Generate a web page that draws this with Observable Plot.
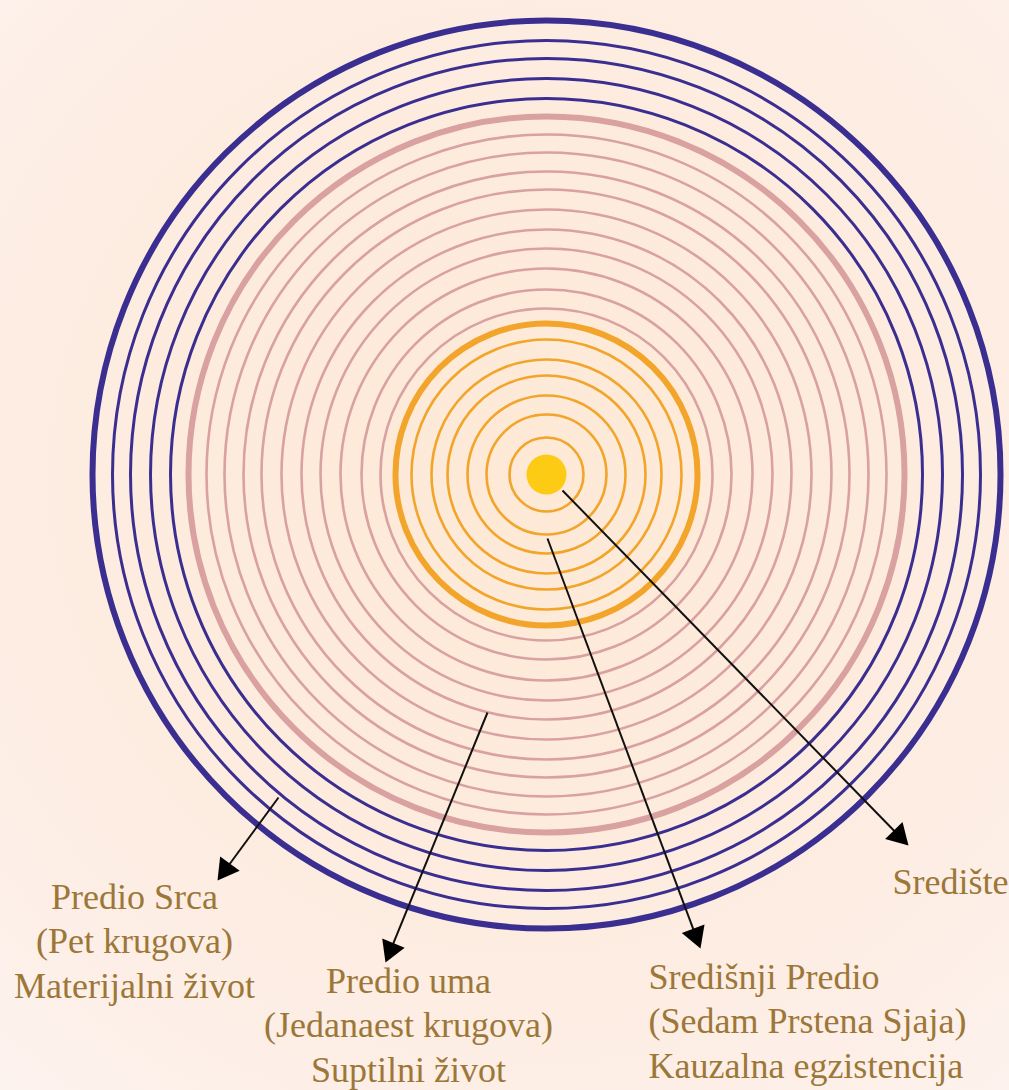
<!DOCTYPE html>
<html>
<head>
<meta charset="utf-8">
<script src="https://cdn.jsdelivr.net/npm/d3@7"></script>
<script src="https://cdn.jsdelivr.net/npm/@observablehq/plot@0.6"></script>
<style>
html, body { margin: 0; padding: 0; }
body { width: 1009px; height: 1090px; overflow: hidden; background: #fdece2; }
</style>
</head>
<body>
<div id="chart"></div>
<script>
// ---- data: ring radii of each region (distance from the centre) ----
const heartRings   = [454, 434, 416, 396, 376];                                   // Predio Srca – five circles
const mindRings    = [358, 340, 322, 303, 285, 265, 245, 226, 206, 185, 166];     // Predio uma – eleven circles
const centralRings = [151, 135, 115, 99, 79, 60, 37];                             // Središnji Predio – seven rings
const coreRadius   = [20];                                                         // Središte
const regionKeys   = ["heart", "mind", "central", "core"];
const regionColors = ["#3b2e91", "#d9a1a1", "#f2a52a", "#fdca14"];

// ---- annotations ----
const labelTexts = [
  "Predio Srca\n(Pet krugova)\nMaterijalni život",
  "Predio uma\n(Jedanaest krugova)\nSuptilni život",
  "Središnji Predio\n(Sedam Prstena Sjaja)\nKauzalna egzistencija",
  "Središte"
];
const labelAnchors = ["middle", "middle", "start", "start"];
const labelX = [-412, -138, 102, 346];
const labelY = [-523, -607, -603, -419];
const arrowFromX = [-268, -59, 1, 16];
const arrowFromY = [-323, -238, -64, -16];
const arrowToX = [-329, -161, 154, 362];
const arrowToY = [-406, -488, -474, -371];

// ---- build tables ----
const rings = [];
[[heartRings, "heart"], [mindRings, "mind"], [centralRings, "central"]].forEach(([rs, g]) =>
  rs.forEach((r, i) => rings.push({r, g, w: i === 0 ? 6 : (g === "heart" ? 3 : 2.6)}))
);
const core = coreRadius.map(r => ({r, g: "core"}));

const headHalf = 7; // triangle symbol half-unit
const arrows = arrowFromX.map((_, i) => {
  const dx = arrowToX[i] - arrowFromX[i], dy = arrowToY[i] - arrowFromY[i];
  const len = Math.hypot(dx, dy);
  const ux = dx / len, uy = dy / len;
  return {
    x1: arrowFromX[i], y1: arrowFromY[i],
    x2: arrowToX[i] - ux * 2 * headHalf, y2: arrowToY[i] - uy * 2 * headHalf,
    rot: Math.atan2(dx, dy) * 180 / Math.PI
  };
});
const labels = labelTexts.map((t, i) => ({t, x: labelX[i], y: labelY[i], a: labelAnchors[i]}));

const W = 1009, H = 1090, CX = 546, CY = 474;
const symR = Math.sqrt(3 * Math.sqrt(3) * headHalf * headHalf / Math.PI);

const textStyle = {x: "x", y: "y", text: "t", lineAnchor: "bottom", lineHeight: 1.236, fontSize: 36, fill: "#9c7738"};

const chart = Plot.plot({
  width: W,
  height: H,
  margin: 0,
  x: {domain: [-CX, W - CX], range: [0, W], axis: null},
  y: {domain: [CY - H, CY], range: [H, 0], axis: null},
  r: {type: "linear", domain: [0, 500], range: [0, 500]},
  color: {domain: regionKeys, range: regionColors},
  style: {
    background: "radial-gradient(circle at 52% 44%, #fee9d6 0%, #fdebdc 40%, #fdeee6 75%, #fdf3ee 100%)",
    fontFamily: "Liberation Serif, serif",
    overflow: "visible"
  },
  marks: [
    Plot.dot(rings, {x: 0, y: 0, r: "r", stroke: "g", strokeWidth: "w", fill: "none", sort: null}),
    Plot.dot(core, {x: 0, y: 0, r: "r", fill: "g", stroke: "none"}),
    Plot.link(arrows, {x1: "x1", y1: "y1", x2: "x2", y2: "y2", stroke: "#111", strokeWidth: 2}),
    Plot.dot(arrows, {x: d => d.x2, y: d => d.y2, symbol: "triangle", r: () => symR, rotate: "rot", fill: "#000", stroke: "none"}),
    Plot.text(labels.filter(d => d.a === "middle"), {...textStyle, textAnchor: "middle"}),
    Plot.text(labels.filter(d => d.a === "start"), {...textStyle, textAnchor: "start"})
  ]
});
document.getElementById("chart").appendChild(chart);
</script>
</body>
</html>
